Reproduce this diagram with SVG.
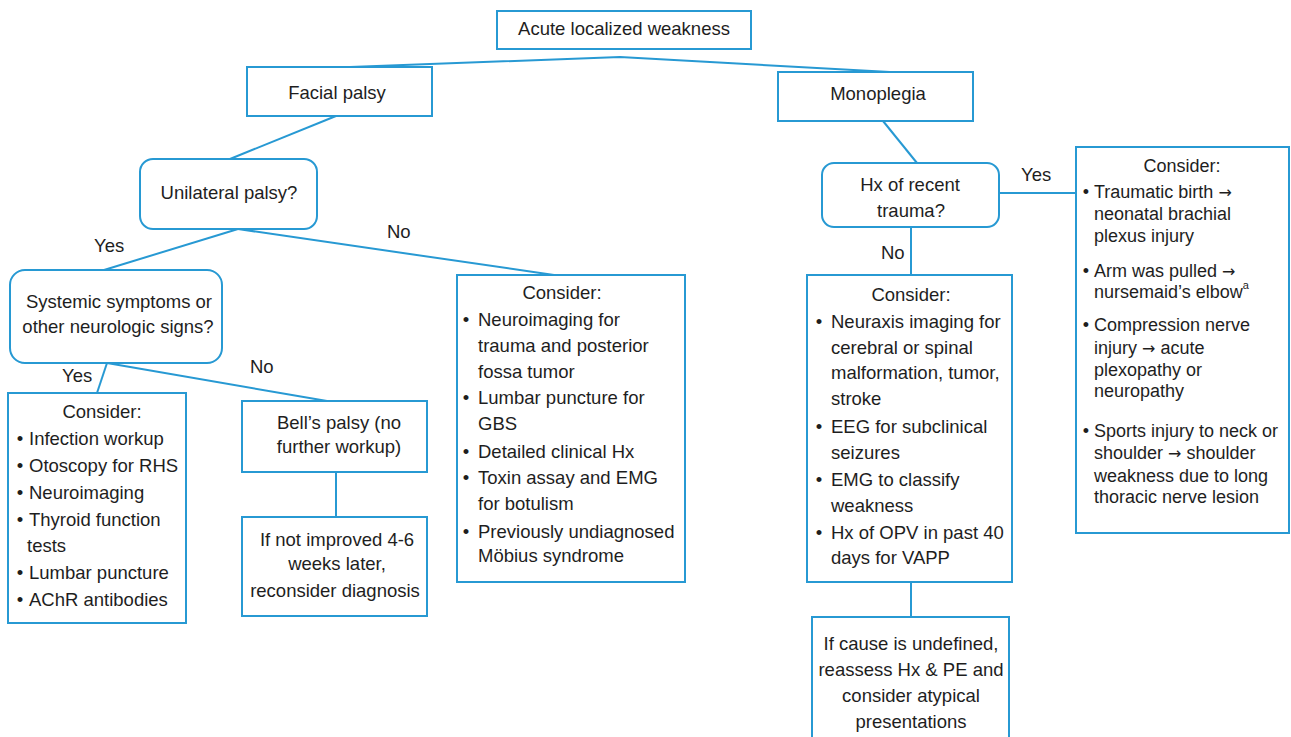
<svg xmlns="http://www.w3.org/2000/svg" width="1291" height="737" viewBox="0 0 1291 737">
<style>
.box{fill:#fff;stroke:#2799d3;stroke-width:2}
.ln{fill:none;stroke:#2799d3;stroke-width:2}
text{font-family:"Liberation Sans",Arial,sans-serif;font-size:18.5px;fill:#1e1e1e}
.c{text-anchor:middle}
.r text{font-size:18px}
.ar{font-family:"DejaVu Sans",sans-serif;font-size:16px}
</style>
<rect width="1291" height="737" fill="#fff"/>
<g id="connectors">
<polyline class="ln" points="350,67 620,57 890,72"/>
<line class="ln" x1="336" y1="116" x2="230" y2="159"/>
<line class="ln" x1="238" y1="229" x2="104" y2="270"/>
<line class="ln" x1="238" y1="229" x2="554" y2="275"/>
<line class="ln" x1="107" y1="363" x2="97" y2="393"/>
<line class="ln" x1="107" y1="363" x2="327" y2="401"/>
<line class="ln" x1="336" y1="472" x2="336" y2="517"/>
<line class="ln" x1="883" y1="121" x2="917" y2="163"/>
<line class="ln" x1="999" y1="193" x2="1076" y2="193"/>
<line class="ln" x1="911" y1="227" x2="911" y2="275"/>
<line class="ln" x1="911" y1="582" x2="911" y2="617"/>
<text x="94" y="252">Yes</text>
<text x="387" y="238">No</text>
<text x="62" y="382">Yes</text>
<text x="250" y="373">No</text>
<text x="1021" y="181">Yes</text>
<text x="881" y="259">No</text>
</g>
<g id="n-top">
<rect class="box" x="497" y="11" width="254" height="38"/>
<text class="c" x="624" y="35">Acute localized weakness</text>
</g>
<g id="n-facial">
<rect class="box" x="247" y="67" width="185" height="49"/>
<text class="c" x="337" y="99">Facial palsy</text>
</g>
<g id="n-mono">
<rect class="box" x="778" y="72" width="195" height="49"/>
<text class="c" x="878" y="100">Monoplegia</text>
</g>
<g id="n-unilateral">
<rect class="box" x="140" y="159" width="177" height="70" rx="13"/>
<text class="c" x="229" y="199">Unilateral palsy?</text>
</g>
<g id="n-systemic">
<rect class="box" x="10" y="270" width="212" height="93" rx="15"/>
<text class="c" x="119" y="308">Systemic symptoms or</text>
<text class="c" x="118" y="333">other neurologic signs?</text>
</g>
<g id="n-hx">
<rect class="box" x="822" y="163" width="177" height="64" rx="12"/>
<text class="c" x="910" y="191">Hx of recent</text>
<text class="c" x="911" y="217">trauma?</text>
</g>
<g id="n-consider-left">
<rect class="box" x="8" y="393" width="178" height="230"/>
<text class="c" x="102" y="418">Consider:</text>
<text class="c" x="20" y="445">•</text><text x="29" y="445">Infection workup</text>
<text class="c" x="20" y="472">•</text><text x="29" y="472">Otoscopy for RHS</text>
<text class="c" x="20" y="499">•</text><text x="29" y="499">Neuroimaging</text>
<text class="c" x="20" y="526">•</text><text x="29" y="526">Thyroid function</text>
<text x="27" y="552">tests</text>
<text class="c" x="20" y="579">•</text><text x="29" y="579">Lumbar puncture</text>
<text class="c" x="20" y="606">•</text><text x="29" y="606">AChR antibodies</text>
</g>
<g id="n-bell">
<rect class="box" x="242" y="401" width="185" height="71"/>
<text class="c" x="339" y="429">Bell’s palsy (no</text>
<text class="c" x="339" y="453">further workup)</text>
</g>
<g id="n-notimproved">
<rect class="box" x="242" y="517" width="185" height="99"/>
<text class="c" x="337" y="546">If not improved 4-6</text>
<text class="c" x="337" y="570">weeks later,</text>
<text class="c" x="335" y="597">reconsider diagnosis</text>
</g>
<g id="n-consider-mid">
<rect class="box" x="457" y="275" width="228" height="307"/>
<text class="c" x="562" y="299">Consider:</text>
<text class="c" x="466" y="326">•</text><text x="478" y="326">Neuroimaging for</text>
<text x="478" y="352">trauma and posterior</text>
<text x="478" y="378">fossa tumor</text>
<text class="c" x="466" y="404">•</text><text x="478" y="404">Lumbar puncture for</text>
<text x="478" y="430">GBS</text>
<text class="c" x="466" y="458">•</text><text x="478" y="458">Detailed clinical Hx</text>
<text class="c" x="466" y="484">•</text><text x="478" y="484">Toxin assay and EMG</text>
<text x="478" y="510">for botulism</text>
<text class="c" x="466" y="538">•</text><text x="478" y="538">Previously undiagnosed</text>
<text x="478" y="562">Möbius syndrome</text>
</g>
<g id="n-consider-neuraxis">
<rect class="box" x="807" y="275" width="205" height="307"/>
<text class="c" x="911" y="301">Consider:</text>
<text class="c" x="819" y="328">•</text><text x="831" y="328">Neuraxis imaging for</text>
<text x="831" y="354">cerebral or spinal</text>
<text x="831" y="379">malformation, tumor,</text>
<text x="831" y="405">stroke</text>
<text class="c" x="819" y="433">•</text><text x="831" y="433">EEG for subclinical</text>
<text x="831" y="459">seizures</text>
<text class="c" x="819" y="486">•</text><text x="831" y="486">EMG to classify</text>
<text x="831" y="512">weakness</text>
<text class="c" x="819" y="539">•</text><text x="831" y="539">Hx of OPV in past 40</text>
<text x="831" y="564">days for VAPP</text>
</g>
<g id="n-undefined">
<rect class="box" x="812" y="617" width="197" height="130"/>
<text class="c" x="911" y="650">If cause is undefined,</text>
<text class="c" x="911" y="676">reassess Hx &amp; PE and</text>
<text class="c" x="911" y="702">consider atypical</text>
<text class="c" x="911" y="728">presentations</text>
</g>
<g id="n-consider-trauma" class="r">
<rect class="box" x="1076" y="147" width="213" height="386"/>
<text class="c" x="1182" y="172">Consider:</text>
<text class="c" x="1086" y="198">•</text><text x="1094" y="198">Traumatic birth <tspan class="ar">→</tspan></text>
<text x="1094" y="220">neonatal brachial</text>
<text x="1094" y="242">plexus injury</text>
<text class="c" x="1086" y="277">•</text><text x="1094" y="277">Arm was pulled <tspan class="ar">→</tspan></text>
<text x="1094" y="298">nursemaid’s elbow<tspan font-size="11" dy="-9">a</tspan></text>
<text class="c" x="1086" y="331">•</text><text x="1094" y="331">Compression nerve</text>
<text x="1094" y="354">injury <tspan class="ar">→</tspan> acute</text>
<text x="1094" y="376">plexopathy or</text>
<text x="1094" y="397">neuropathy</text>
<text class="c" x="1086" y="437">•</text><text x="1094" y="437">Sports injury to neck or</text>
<text x="1094" y="459">shoulder <tspan class="ar">→</tspan> shoulder</text>
<text x="1094" y="482">weakness due to long</text>
<text x="1094" y="503">thoracic nerve lesion</text>
</g>
</svg>
